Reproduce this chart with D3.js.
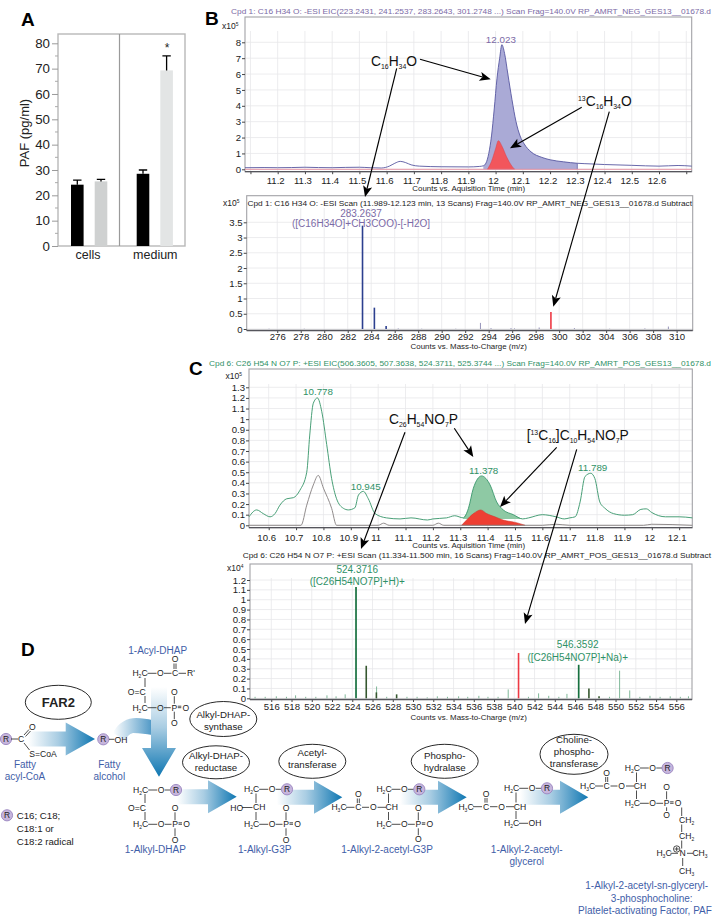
<!DOCTYPE html>
<html><head><meta charset="utf-8">
<script src="https://cdnjs.cloudflare.com/ajax/libs/d3/7.8.5/d3.min.js"></script>
<style>
html,body{margin:0;padding:0;background:#fff}
svg{display:block}
text{font-family:"Liberation Sans",Arial,sans-serif}
</style></head><body><svg id="c" width="716" height="918"></svg>
<script>
// ---------- Panel A data
const barGroups = ["cells","medium"];
const barValues = [24.2,25.5,28.5,69.3];
const barErrors = [26,26.3,30,75];
const barYTicks = [0,10,20,30,40,50,60,70,80];

// ---------- Panel B data
const bTitleTop = "Cpd 1: C16 H34 O: -ESI EIC(223.2431, 241.2537, 283.2643, 301.2748 ...) Scan Frag=140.0V RP_AMRT_NEG_GES13__01678.d";
const bTitleBottom = "Cpd 1: C16 H34 O: -ESI Scan (11.989-12.123 min, 13 Scans) Frag=140.0V RP_AMRT_NEG_GES13__01678.d Subtract";
const bTime = [11.08,11.15,11.2,11.25,11.3,11.35,11.4,11.45,11.5,11.54,11.58,11.61,11.63,11.65,11.67,11.69,11.72,11.8,11.9,11.94,11.955,11.965,11.975,11.985,11.995,12.005,12.015,12.023,12.033,12.045,12.06,12.075,12.09,12.105,12.13,12.17,12.2,12.25,12.3,12.35,12.4,12.5,12.6,12.67,12.72];
const bSignal = [0.1,0.11,0.1,0.11,0.13,0.11,0.1,0.12,0.13,0.1,0.08,0.2,0.38,0.5,0.42,0.28,0.2,0.16,0.15,0.18,0.22,0.4,1.0,2.1,3.8,5.7,7.0,7.85,7.3,6.0,4.4,3.0,2.1,1.6,1.1,0.75,0.6,0.47,0.38,0.34,0.3,0.25,0.2,0.24,0.2];
const bFillStart = 11.955, bFillEnd = 12.3;
const bIsoTime = [11.97,11.985,12,12.01,12.025,12.04,12.06,12.07];
const bIsoSignal = [0,0.5,1.3,1.8,1.4,0.8,0.2,0];
const bMz = [283.26,284.27,285.27];
const bMzVal = [3.39,0.7,0.1];
const bMzMinor = [275.3,278.3,286.3,288.3,291.2,293.3,294.2,295.9,296.2,298.3,301.3,304.3,307.3,309.3];
const bMzMinorVal = [0.01,0.01,0.02,0.01,0.01,0.2,0.03,0.03,0.02,0.05,0.03,0.01,0.02,0.08];
const bIsoMz = [299.3];
const bIsoMzVal = [0.56];

// ---------- Panel C data
const cTitleTop = "Cpd 6: C26 H54 N O7 P: +ESI EIC(506.3605, 507.3638, 524.3711, 525.3744 ...) Scan Frag=140.0V RP_AMRT_POS_GES13__01678.d";
const cTitleBottom = "Cpd 6: C26 H54 N O7 P: +ESI Scan (11.334-11.500 min, 16 Scans) Frag=140.0V RP_AMRT_POS_GES13__01678.d Subtract";
const cTime = [10.528,10.556,10.58,10.605,10.623,10.641,10.666,10.69,10.714,10.739,10.75,10.763,10.778,10.794,10.812,10.83,10.848,10.873,10.891,10.915,10.928,10.946,10.964,10.989,11.03,11.08,11.12,11.18,11.2,11.25,11.28,11.311,11.33,11.348,11.378,11.409,11.433,11.457,11.494,11.528,11.55,11.6,11.65,11.68,11.7,11.72,11.738,11.756,11.777,11.792,11.81,11.829,11.86,11.9,11.93,11.96,11.98,12,12.05,12.1,12.148];
const cSignal = [0.08,0.145,0.11,0.08,0.11,0.19,0.25,0.26,0.33,0.5,0.85,1.15,1.2,1.07,0.76,0.44,0.25,0.16,0.145,0.165,0.285,0.32,0.25,0.11,0.07,0.06,0.07,0.05,0.06,0.07,0.09,0.07,0.16,0.35,0.465,0.38,0.22,0.145,0.1,0.06,0.07,0.1,0.08,0.06,0.07,0.08,0.22,0.46,0.49,0.44,0.22,0.16,0.11,0.095,0.1,0.15,0.155,0.12,0.08,0.08,0.07];
const cFillStart = 11.305, cFillEnd = 11.528, cFillBase = 0.06;
const cGreyTime = [10.528,10.718,10.739,10.763,10.781,10.8,10.83,10.848,11,11.02,11.04,11.2,11.22,11.24,11.6,11.65,11.7,11.97,12,12.148];
const cGreySignal = [0,0,0.19,0.38,0.47,0.35,0.16,0,0,0.02,0,0,0.02,0,0,0.01,0,0,0.01,0];
const cIsoTime = [11.305,11.323,11.348,11.375,11.397,11.427,11.457,11.506,11.537];
const cIsoSignal = [0,0.05,0.11,0.145,0.11,0.08,0.05,0.025,0];
const cMzMain = [524.37,546.36];
const cMzMainVal = [1.13,0.34];
const cMzDark = [525.38,526.38,528.38,547.37,548.37];
const cMzDarkVal = [0.33,0.06,0.04,0.1,0.02];
const cMzThin = [514.4,515.4,516.5,517.5,518.4,519.4,520.4,521.5,522.4,523.3,526.4,527.4,529.4,530.4,531.4,532.4,533.4,534.5,535.4,536.5,537.4,538.4,539.4,541.4,542.4,543.4,544.4,545.2,549.4,550.4,551.4,552.4,553.4,554.4,555.4,556.4,557.2];
const cMzThinVal = [0.015,0.015,0.02,0.015,0.03,0.015,0.015,0.03,0.02,0.04,0.12,0.015,0.015,0.015,0.01,0.02,0.015,0.02,0.015,0.025,0.015,0.015,0.09,0.015,0.05,0.025,0.015,0.045,0.015,0.28,0.08,0.015,0.025,0.015,0.02,0.015,0.02];
const cIsoMz = [540.42];
const cIsoMzVal = [0.46];

const svg = d3.select("#c");
const FONT_TICK = 9.6;

// -------- text with sub/sup: "C_16H_34O", "^13C"
function rich(g,x,y,str,o={}){
  const size=o.size||8.5, fill=o.fill||"#222", anchor=o.anchor||"middle", ratio=o.ratio||0.58;
  const t=g.append("text").attr("x",x).attr("y",y+size*0.36).attr("font-size",size)
    .attr("fill",fill).attr("text-anchor",anchor).attr("font-weight",o.weight||null);
  const re=/([_^])(\d+)|([^_^]+)/g; let m, shift=0;
  while((m=re.exec(str))){
    if(m[1]){
      const want=m[1]==="_"?size*0.22:-size*0.36;
      t.append("tspan").attr("dy",want-shift).attr("font-size",size*ratio).text(m[2]);
      shift=want;
    } else {
      t.append("tspan").attr("dy",-shift).text(m[3]);
      shift=0;
    }
  }
  return t;
}
function label(x,y,str,size,fill,anchor,ratio){ return rich(svg,x,y,str,{size,fill,anchor,ratio}); }
function panelLetter(x,y,s){ svg.append("text").attr("x",x).attr("y",y+6.5).attr("font-size",19).attr("font-weight","bold").attr("fill","#000").text(s); }

// -------- Panel A
(function(){
  const L=58,R=185,T=34,B=246;
  const y=d3.scaleLinear().domain([0,80]).range([246,43.3]);
  const barX=[71,94.7,136.7,160.3], w=12.6, cols=["#000","#cfd1d1","#000","#e3e5e5"];
  const g=svg.append("g");
  g.append("rect").attr("x",L).attr("y",T).attr("width",R-L).attr("height",B-T).attr("fill","none").attr("stroke","#b8b8b8").attr("stroke-width",1.4);
  g.append("line").attr("x1",119.5).attr("x2",119.5).attr("y1",T).attr("y2",B).attr("stroke","#9a9a9a").attr("stroke-width",1.2);
  const ax=g.append("g").attr("transform",`translate(${L},0)`).call(d3.axisLeft(y).tickValues(barYTicks).tickSize(6).tickPadding(2));
  ax.select(".domain").remove();
  ax.selectAll("line").attr("stroke","#9a9a9a");
  ax.selectAll("text").attr("font-size",13.3).attr("fill","#222").attr("font-family",'"Liberation Sans"');
  const minor=d3.range(5,80,5).filter(v=>v%10);
  g.selectAll(".mn").data(minor).join("line").attr("x1",L-3).attr("x2",L).attr("y1",d=>y(d)).attr("y2",d=>y(d)).attr("stroke","#aaa");
  g.selectAll(".bar").data(barValues).join("rect").attr("x",(d,i)=>barX[i]).attr("width",w).attr("y",d=>y(d)).attr("height",d=>y(0)-y(d)).attr("fill",(d,i)=>cols[i]);
  g.selectAll(".err").data(barErrors).join("path").attr("fill","none").attr("stroke","#000").attr("stroke-width",1.3)
    .attr("d",(d,i)=>{const c=barX[i]+w/2;return `M${c},${y(barValues[i])}V${y(d)}M${c-4.2},${y(d)}H${c+4.2}`;});
  g.selectAll(".cat").data(barGroups).join("text").attr("x",(d,i)=>i?155.3:88).attr("y",258.5).attr("text-anchor","middle").attr("font-size",12.5).attr("fill","#222").text(d=>d);
  g.append("text").attr("transform","translate(28.5,133) rotate(-90)").attr("text-anchor","middle").attr("font-size",13).attr("fill","#222").text("PAF (pg/ml)");
  g.append("text").attr("x",167).attr("y",52).attr("text-anchor","middle").attr("font-size",12).attr("fill","#222").text("*");
})();
panelLetter(21,19,"A");
panelLetter(205,18,"B");
panelLetter(189,368,"C");
panelLetter(21,649,"D");

// -------- generic frame
function frame(o){
  const g=svg.append("g");
  const xt=d3.range(o.xFrom,o.xTo+o.xStep/2,o.xStep).map(v=>+v.toFixed(3));
  g.selectAll(".gv").data(xt).join("line").attr("x1",d=>o.x(d)).attr("x2",d=>o.x(d)).attr("y1",o.gridTop).attr("y2",o.B).attr("stroke","#e7e7ea").attr("stroke-width",0.8);
  g.selectAll(".gh").data(o.yTicks).join("line").attr("x1",o.L).attr("x2",o.R).attr("y1",d=>o.y(d)).attr("y2",d=>o.y(d)).attr("stroke","#e7e7ea").attr("stroke-width",0.8);
  g.append("rect").attr("x",o.L).attr("y",o.T).attr("width",o.R-o.L).attr("height",o.B-o.T).attr("fill","none").attr("stroke","#a2a2a6").attr("stroke-width",1.1);
  const ya=g.append("g").attr("transform",`translate(${o.L},0)`).call(d3.axisLeft(o.y).tickValues(o.yTicks).tickSize(3).tickPadding(1).tickFormat(d=>+d.toFixed(2)));
  ya.select(".domain").remove();
  ya.selectAll("line").attr("stroke","#444");
  ya.selectAll("text").attr("font-size",FONT_TICK).attr("fill","#222").attr("font-family",'"Liberation Sans"');
  const skip=o.skipLabels||[];
  const xa=g.append("g").attr("transform",`translate(0,${o.B})`).call(d3.axisBottom(o.x).tickValues(xt).tickSize(2.5).tickFormat(d=>skip.includes(d)?"":+d.toFixed(2)));
  xa.select(".domain").remove();
  xa.selectAll("line").attr("stroke","#444");
  xa.selectAll("text").attr("font-size",FONT_TICK).attr("fill","#222").attr("font-family",'"Liberation Sans"').attr("dx",o.labelDx||0).attr("y",o.labelOffset-FONT_TICK*0.35);
  g.append("line").attr("x1",o.L).attr("x2",o.R).attr("y1",o.B).attr("y2",o.B).attr("stroke","#55555c").attr("stroke-width",1.3);
  label(o.expX,o.expY,o.exp,8.5,"#222","start");
  return {g,x:o.x,y:o.y};
}
function fitted(x1,x2,y,s,fill){
  svg.append("text").attr("x",x1).attr("y",y+2.8).attr("font-size",8).attr("fill",fill)
    .attr("textLength",x2-x1).attr("lengthAdjust","spacingAndGlyphs").text(s);
}
const PURPLE="#7b6aa6", GREEN="#2f9166", LBL=10;

// -------- Panel B top
(function(){
  const x=d3.scaleLinear().domain([11.08,12.72]).range([245,691.7]);
  const y=d3.scaleLinear().domain([0,8]).range([169.3,42.3]);
  fitted(231,711,11,bTitleTop,PURPLE);
  const f=frame({x,y,L:245,R:691.7,T:17,B:171.7,gridTop:31,xFrom:11.1,xTo:12.7,xStep:0.1,yTicks:d3.range(0,9),expX:222,expY:26,exp:"x10^5",labelDx:-2.5,labelOffset:8.6,skipLabels:[11.1,12.7]});
  const pts=bTime.map((t,i)=>[t,bSignal[i]]);
  const line=d3.line().x(d=>x(d[0])).y(d=>y(d[1])).curve(d3.curveMonotoneX);
  const area=d3.area().x(d=>x(d[0])).y0(y(0)).y1(d=>y(d[1])).curve(d3.curveMonotoneX);
  f.g.append("path").attr("d",area(pts.filter(d=>d[0]>=bFillStart&&d[0]<=bFillEnd))).attr("fill","#aaaad6");
  f.g.append("path").attr("d",line(pts)).attr("fill","none").attr("stroke","#5757a0").attr("stroke-width",0.9);
  f.g.append("line").attr("x1",x(bFillEnd)).attr("x2",x(bFillEnd)).attr("y1",y(0)).attr("y2",y(0.38)).attr("stroke","#5757a0").attr("stroke-width",0.7);
  const iso=bIsoTime.map((t,i)=>[t,bIsoSignal[i]]);
  f.g.append("path").attr("d",area(iso)).attr("fill","#f2565c").attr("stroke","#d8404a").attr("stroke-width",0.5);
  f.g.append("line").attr("x1",245).attr("x2",691.7).attr("y1",y(0)).attr("y2",y(0)).attr("stroke","#e58a9c").attr("stroke-width",0.9);
  label(x(12.023)-1,39,"12.023",9.8,PURPLE);
  label(468.7,188.6,"Counts vs. Aquisition Time (min)",7.9,"#222");
})();
// -------- Panel B bottom
(function(){
  const x=d3.scaleLinear().domain([273.4,311.37]).range([246.7,692.7]);
  const y=d3.scaleLinear().domain([0,3.5]).range([329,222.3]);
  const f=frame({x,y,L:246.7,R:692.7,T:195.7,B:330.5,gridTop:208,xFrom:276,xTo:310,xStep:2,yTicks:[0,0.5,1,1.5,2,2.5,3,3.5],expX:223,expY:203,exp:"x10^5",labelOffset:6.5});
  fitted(247.5,692,202.7,bTitleBottom,"#222");
  const stems=(xs,vs,c,w)=>f.g.selectAll(null).data(xs).join("line").attr("x1",d=>x(d)).attr("x2",d=>x(d)).attr("y1",y(0)).attr("y2",(d,i)=>y(vs[i])).attr("stroke",c).attr("stroke-width",w);
  stems(bMzMinor,bMzMinorVal,"#7b78a8",0.8);
  stems(bMz,bMzVal,"#2c3f8f",1.6);
  stems(bIsoMz,bIsoMzVal,"#ee3a44",1.6);
  label(361,213,"283.2637",LBL,PURPLE);
  label(361,223.7,"([C16H34O]+CH3COO)-[-H2O]",LBL,PURPLE);
  label(468.7,346.2,"Counts vs. Mass-to-Charge (m/z)",7.9,"#222");
})();
// -------- Panel C top
(function(){
  const x=d3.scaleLinear().domain([10.528,12.148]).range([249,692.3]);
  const y=d3.scaleLinear().domain([0,1.3]).range([525.3,387.3]);
  fitted(209,711,363,cTitleTop,GREEN);
  const yT=d3.range(0,14).map(d=>d/10);
  const f=frame({x,y,L:249,R:692.3,T:369,B:527.7,gridTop:384,xFrom:10.6,xTo:12.1,xStep:0.1,yTicks:yT,expX:225.5,expY:376,exp:"x10^5",labelDx:-2.5,labelOffset:9.6});
  const line=d3.line().x(d=>x(d[0])).y(d=>y(d[1])).curve(d3.curveMonotoneX);
  const pts=cTime.map((t,i)=>[t,cSignal[i]]);
  const fillPts=pts.filter(d=>d[0]>=cFillStart&&d[0]<=cFillEnd);
  const area=d3.area().x(d=>x(d[0])).y0(y(cFillBase)).y1(d=>y(d[1])).curve(d3.curveMonotoneX);
  f.g.append("path").attr("d",area(fillPts)).attr("fill","#8ec9a4");
  const redArea=d3.area().x(d=>x(d[0])).y0(y(0)).y1(d=>y(d[1])).curve(d3.curveMonotoneX);
  const iso=cIsoTime.map((t,i)=>[t,cIsoSignal[i]]);
  f.g.append("path").attr("d",redArea(iso)).attr("fill","#ee3f33").attr("stroke","#c9392f").attr("stroke-width",0.5);
  f.g.append("path").attr("d",line(cGreyTime.map((t,i)=>[t,cGreySignal[i]]))).attr("fill","none").attr("stroke","#8a8585").attr("stroke-width",0.95);
  f.g.append("path").attr("d",line(pts)).attr("fill","none").attr("stroke","#3f9a70").attr("stroke-width",0.95);
  label(318,391,"10.778",9.8,GREEN);
  label(365.7,486,"10.945",9.8,GREEN);
  label(483.7,470.3,"11.378",9.8,GREEN);
  label(592.7,467.7,"11.789",9.8,GREEN);
  label(468.7,545.6,"Counts vs. Aquisition Time (min)",7.9,"#222");
})();
// -------- Panel C bottom
(function(){
  const x=d3.scaleLinear().domain([513.9,557.55]).range([250,692]);
  const y=d3.scaleLinear().domain([0,1.2]).range([698.3,580]);
  fitted(242.7,711,555.3,cTitleBottom,"#222");
  const yT=d3.range(0,13).map(d=>d/10);
  const f=frame({x,y,L:250,R:692,T:564,B:699.5,gridTop:578,xFrom:516,xTo:556,xStep:2,yTicks:yT,expX:227,expY:568,exp:"x10^4",labelOffset:7.2});
  const stems=(xs,vs,c,w)=>f.g.selectAll(null).data(xs).join("line").attr("x1",d=>x(d)).attr("x2",d=>x(d)).attr("y1",y(0)).attr("y2",(d,i)=>y(vs[i])).attr("stroke",c).attr("stroke-width",w);
  stems(cMzThin,cMzThinVal,"#5fa67f",0.8);
  stems(cMzDark,cMzDarkVal,"#36572f",1.6);
  stems(cMzMain,cMzMainVal,"#17703f",1.7);
  stems(cIsoMz,cIsoMzVal,"#ee3a44",1.6);
  label(357.3,569.3,"524.3716",LBL,GREEN);
  label(357.3,581.3,"([C26H54NO7P]+H)+",LBL,GREEN);
  label(577.7,644.7,"546.3592",LBL,GREEN);
  label(577.7,657,"([C26H54NO7P]+Na)+",LBL,GREEN);
  label(468.7,717.5,"Counts vs. Mass-to-Charge (m/z)",7.9,"#222");
})();

// -------- annotations
function pointer(x1,y1,x2,y2){
  const a=Math.atan2(y2-y1,x2-x1), L=11, W=4.6, N=8.5;
  const bx=x2-N*Math.cos(a), by=y2-N*Math.sin(a);
  svg.append("line").attr("x1",x1).attr("y1",y1).attr("x2",bx).attr("y2",by).attr("stroke","#000").attr("stroke-width",1.15);
  const p=(d,s)=>[x2-d*Math.cos(a)-s*Math.sin(a),y2-d*Math.sin(a)+s*Math.cos(a)];
  svg.append("polygon").attr("points",[[x2,y2],p(L,W),[bx,by],p(L,-W)].map(d=>d.join(",")).join(" ")).attr("fill","#000");
}
label(371,61,"C_16H_34O",13.8,"#111","start",0.5);
pointer(420,59.3,490.7,79.3);
pointer(396.7,68.3,365,197);
label(578,100.7,"^13C_16H_34O",13.8,"#111","start",0.5);
pointer(581.7,107.3,510,148.3);
pointer(609.3,111.7,553.3,306.7);
label(389,419,"C_26H_54NO_7P",13.8,"#111","start",0.5);
pointer(405,432.3,361,549);
pointer(454.3,428.3,473.3,457);
label(526.7,435,"[^13C_16]C_10H_54NO_7P",13.8,"#111","start",0.5);
pointer(556.7,447.3,500,507);
pointer(576.7,449.3,525,624);

// -------- Panel D
const defs=svg.append("defs");
function grad(id,x1,y1,x2,y2,mid){
  const g=defs.append("linearGradient").attr("id",id).attr("x1",x1).attr("y1",y1).attr("x2",x2).attr("y2",y2);
  g.append("stop").attr("offset",0).attr("stop-color","#fff");
  if(mid) g.append("stop").attr("offset",0.45).attr("stop-color","#a9cde3");
  g.append("stop").attr("offset",1).attr("stop-color",mid?"#0f77b2":"#4f98c6");
}
grad("gh",0,0,1,0,true); grad("gv",0,0,0,1,true); grad("gc",0,0,1,0,false);
const D=svg.append("g");
function hArrow(x0,xh,xt,y){
  D.append("path").attr("d",`M${x0},${y-7.5}H${xh}V${y-16.5}L${xt},${y}L${xh},${y+16.5}V${y+7.5}H${x0}Z`).attr("fill","url(#gh)");
}
D.append("path").attr("d","M113,733C118,722 128,718 136,718C142,718 148,719 152,720V735C146,734 140,733 133,733C129,734 127,737 125,740Z").attr("fill","url(#gc)");
D.append("path").attr("d","M151,687H167V748H176L159,776.7L142,748H151Z").attr("fill","url(#gv)");
hArrow(28,65.7,95,739);
hArrow(177,208,236.7,796.7);
hArrow(276.7,314,342.3,797.3);
hArrow(400,438,466.7,797.3);
hArrow(520,560,588.3,797.3);

const BLUE="#3f5ea8";
function bond(x1,y1,x2,y2){ D.append("line").attr("x1",x1).attr("y1",y1).attr("x2",x2).attr("y2",y2).attr("stroke","#222").attr("stroke-width",0.8); }
function atom(x,y,s,a){ rich(D,x,y,s,{size:8.6,fill:"#222",anchor:a||"middle"}); }
function rCircle(x,y){
  D.append("circle").attr("cx",x).attr("cy",y).attr("r",5.6).attr("fill","#c6b5dc").attr("stroke","#9a86bf").attr("stroke-width",0.9);
  rich(D,x,y,"R",{size:8.4,fill:"#222"});
}
function oval(cx,cy,rx,ry,lines,ys,size,weight){
  D.append("ellipse").attr("cx",cx).attr("cy",cy).attr("rx",rx).attr("ry",ry).attr("fill","#fff").attr("fill-opacity",0.95).attr("stroke","#111").attr("stroke-width",0.9);
  lines.forEach((s,i)=>rich(D,cx,ys[i],s,{size:size||9.7,fill:"#222",weight}));
}
function blue(x,y,s){ rich(D,x,y,s,{size:10,fill:BLUE}); }
function dblV(x,y1,y2){ bond(x-1,y1,x-1,y2); bond(x+1,y1,x+1,y2); }
function h2cO(x,y){ atom(x,y,"H_2C"); bond(x+7.5,y,x+16.5,y); atom(x+20.3,y,"O"); }
function phosphate(x,y,top,bot){
  h2cO(x,y);
  const p=x+34.3;
  bond(x+24,y,p-3.5,y); atom(p,y,"P");
  bond(p+3.5,y,p+7,y); atom(p+11.5,y,"O"); bond(p+3.5,y-1.5,p+7,y-1.5);
  atom(p,y-top,"O"); bond(p,y-top+4,p,y-4);
  atom(p,y+bot,"O"); bond(p,y+4,p,y+bot-4);
}
function alkyl(x,y){ h2cO(x,y); bond(x+24,y,x+30,y); rCircle(x+35.3,y); }

// FAR2 + legend
oval(58.3,702.3,33,17,["FAR2"],[702.5],13,"bold");
rCircle(6,739); bond(11,739,18,739); atom(21,739.3,"C");
bond(24,735,29,729.5); bond(25.5,736.5,30.5,731); atom(32.3,726.7,"O");
bond(24,743,29.5,750); atom(29.3,754,"S=CoA","start");
blue(25,764.3,"Fatty"); blue(25,776,"acyl-CoA");
rCircle(103.3,739.3); bond(109,739.3,114.5,739.3); atom(121,740,"OH");
blue(109.3,764.3,"Fatty"); blue(109.3,776,"alcohol");
rCircle(7,815.3);
["C16; C18;","C18:1 or","C18:2 radical"].forEach((s,i)=>rich(D,16.7,[815.3,828.7,842][i],s,{size:9.7,fill:"#222",anchor:"start"}));

// 1-Acyl-DHAP
blue(157.7,650,"1-Acyl-DHAP");
h2cO(140,673.3); bond(164,673.3,171.5,673.3); atom(175,673.3,"C"); bond(178.5,673.3,186,673.3); atom(191,673.3,"R'");
atom(175,659,"O"); dblV(175,663.5,669);
bond(145,678,145,687); atom(136.7,691.7,"O=C"); bond(145,696,145,703);
phosphate(140,707.7,15.5,15.5);

// 1-Alkyl-DHAP
alkyl(140.7,790);
bond(145,794,145,803); atom(137,807.7,"O=C"); bond(145,812,145,820);
phosphate(140.7,824.3,16,16);
blue(155.3,849,"1-Alkyl-DHAP");

// 1-Alkyl-G3P
alkyl(251.7,789.3);
bond(256,793.5,256,803); atom(259.3,807.3,"CH"); atom(236.7,807.7,"HO"); bond(242,807.5,252.5,807.5); bond(256,812,256,820);
phosphate(251.7,824.3,16,15.5);
blue(264.7,849.3,"1-Alkyl-G3P");

// 1-Alkyl-2-acetyl-G3P
atom(339,807.3,"H_3C"); bond(346,807.3,354.5,807.3); atom(358.3,807.3,"C"); atom(358.3,794.3,"O"); dblV(358.3,798.5,803.2);
bond(362,807.3,369,807.3); atom(373.3,807.3,"O"); bond(377.5,807.3,386,807.3); atom(391.7,807.3,"CH");
alkyl(384,789.3); bond(388.5,793.5,388.5,803); bond(388.5,812,388.5,820);
phosphate(384,824.3,16,15);
blue(387,849.3,"1-Alkyl-2-acetyl-G3P");

// 1-Alkyl-2-acetyl-glycerol
atom(466,806.7,"H_3C"); bond(473,806.7,482,806.7); atom(486,806.7,"C"); atom(486,793.7,"O"); dblV(486,798,802.7);
bond(490,806.7,497.5,806.7); atom(501.7,806.7,"O"); bond(506,806.7,514,806.7); atom(520,806.7,"CH");
alkyl(511.7,788.3); bond(516,792.5,516,802.5); bond(516,811,516,819);
atom(511.7,823.3,"H_2C"); bond(519,823.3,528,823.3); atom(535,823.3,"OH");
blue(526.7,849.3,"1-Alkyl-2-acetyl-"); blue(526.7,861.3,"glycerol");

// PAF
atom(587.7,786,"H_3C"); bond(595,786,603,786); atom(606.7,786,"C"); atom(606.7,772.7,"O"); dblV(606.7,777,782);
bond(610.5,786,617.5,786); atom(621.7,786,"O"); bond(626,786,634,786); atom(640,786,"CH");
alkyl(632.3,768); bond(636.5,772.5,636.5,782); bond(636.5,790.5,636.5,799);
phosphate(632.3,803.3,16,11.7);
bond(681.7,807.5,681.7,816); atom(686.7,820,"CH_2"); bond(681.7,824.5,681.7,832); atom(686.7,836,"CH_2");
bond(681.7,840.5,681.7,848.5); atom(682.7,853.3,"N"); atom(664,853.3,"H_3C"); bond(670.5,853.3,678,853.3); bond(687,853.3,693,853.3); atom(700,853.3,"CH_3");
bond(682.7,858,682.7,866); atom(686.7,870.7,"CH_3");
D.append("circle").attr("cx",676.7).attr("cy",849).attr("r",3.2).attr("fill","#fff").attr("stroke","#222").attr("stroke-width",0.8);
bond(674.6,849,678.8,849); bond(676.7,846.9,676.7,851.1);
blue(646.7,885.3,"1-Alkyl-2-acetyl-sn-glyceryl-");
blue(651.7,898,"3-phosphocholine:");
blue(645,910.7,"Platelet-activating Factor, PAF");

// enzymes
oval(223.3,719,33.5,17.5,["Alkyl-DHAP-","synthase"],[715,727]);
oval(216,762.3,33.5,16.5,["Alkyl-DHAP-","reductase"],[756,768]);
oval(312.3,761.3,33.5,17,["Acetyl-","transferase"],[753,765]);
oval(444.7,761.3,33.5,17,["Phospho-","hydralase"],[756,768]);
oval(574,754.3,34,20,["Choline-","phospho-","transferase"],[739.5,752,763.5]);
</script></body></html>
